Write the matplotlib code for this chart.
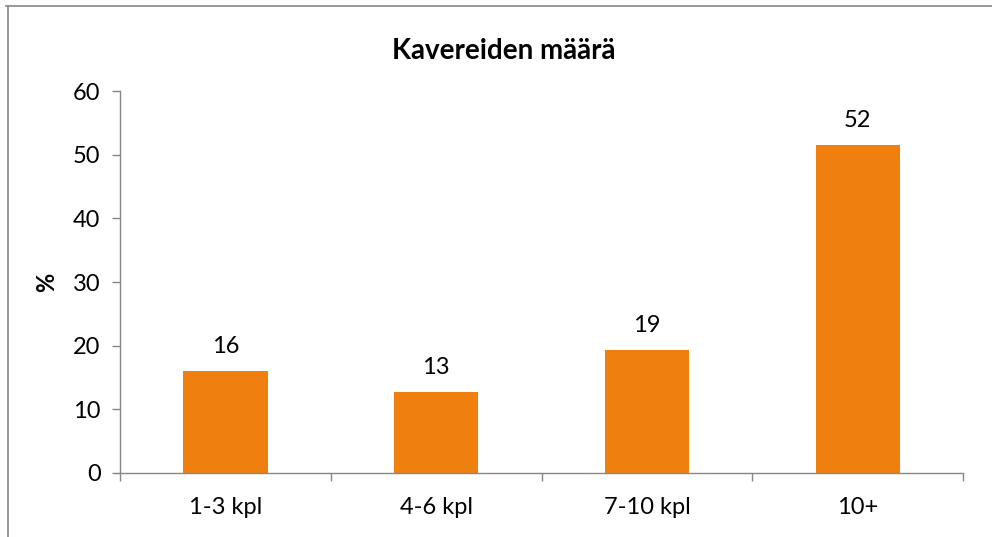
import matplotlib.pyplot as plt
import numpy as np

# Kavereiden määrä (%)
categories = ["1-3 kpl", "4-6 kpl", "7-10 kpl", "10+"]
values = [16.0, 12.8, 19.3, 51.5]
labels = ["16", "13", "19", "52"]

plt.rcParams["font.family"] = ["Lato", "DejaVu Sans"]

orange = "#EF7F0E"
axis_gray = "#868686"

fig = plt.figure(figsize=(9.92, 5.37), dpi=100)
ax = fig.add_axes([0.121, 0.1192, 0.850, 0.7113])

x = np.arange(len(categories))
ax.bar(x, values, width=0.4, color=orange, zorder=2)

for xi, v, lab in zip(x, values, labels):
    ax.annotate(lab, xy=(xi, v), xytext=(0, 10), textcoords="offset points",
                ha="center", va="bottom", fontsize=17, color="black")

ax.set_xlim(-0.5, len(categories) - 0.5)
ax.set_ylim(0, 60)
ax.set_yticks(range(0, 61, 10))

# Excel-style category ticks between the bars
ax.set_xticks(np.arange(-0.5, len(categories), 1.0))
ax.set_xticklabels([])
ax.set_xticks(x, minor=True)
ax.set_xticklabels(categories, minor=True)
ax.tick_params(axis="x", which="minor", length=0, pad=17, labelsize=17)
ax.tick_params(axis="x", which="major", length=6, color=axis_gray, width=1)
ax.tick_params(axis="y", length=6, color=axis_gray, width=1, labelsize=17, pad=8)

for side in ["top", "right"]:
    ax.spines[side].set_visible(False)
for side in ["left", "bottom"]:
    ax.spines[side].set_color(axis_gray)
    ax.spines[side].set_linewidth(1)

ax.set_ylabel("%", fontsize=17, fontweight="bold", labelpad=11)
fig.text(0.508, 0.905, "Kavereiden määrä", ha="center", va="center",
         fontsize=20, fontweight="bold")

# chart frame (open on the right and bottom, as cropped)
fig.add_artist(plt.Line2D([0.006, 1.0], [0.989, 0.989], color=axis_gray, linewidth=1.2))
fig.add_artist(plt.Line2D([0.008, 0.008], [0.0, 0.989], color=axis_gray, linewidth=1.2))

fig.savefig("out.png", dpi=100)
